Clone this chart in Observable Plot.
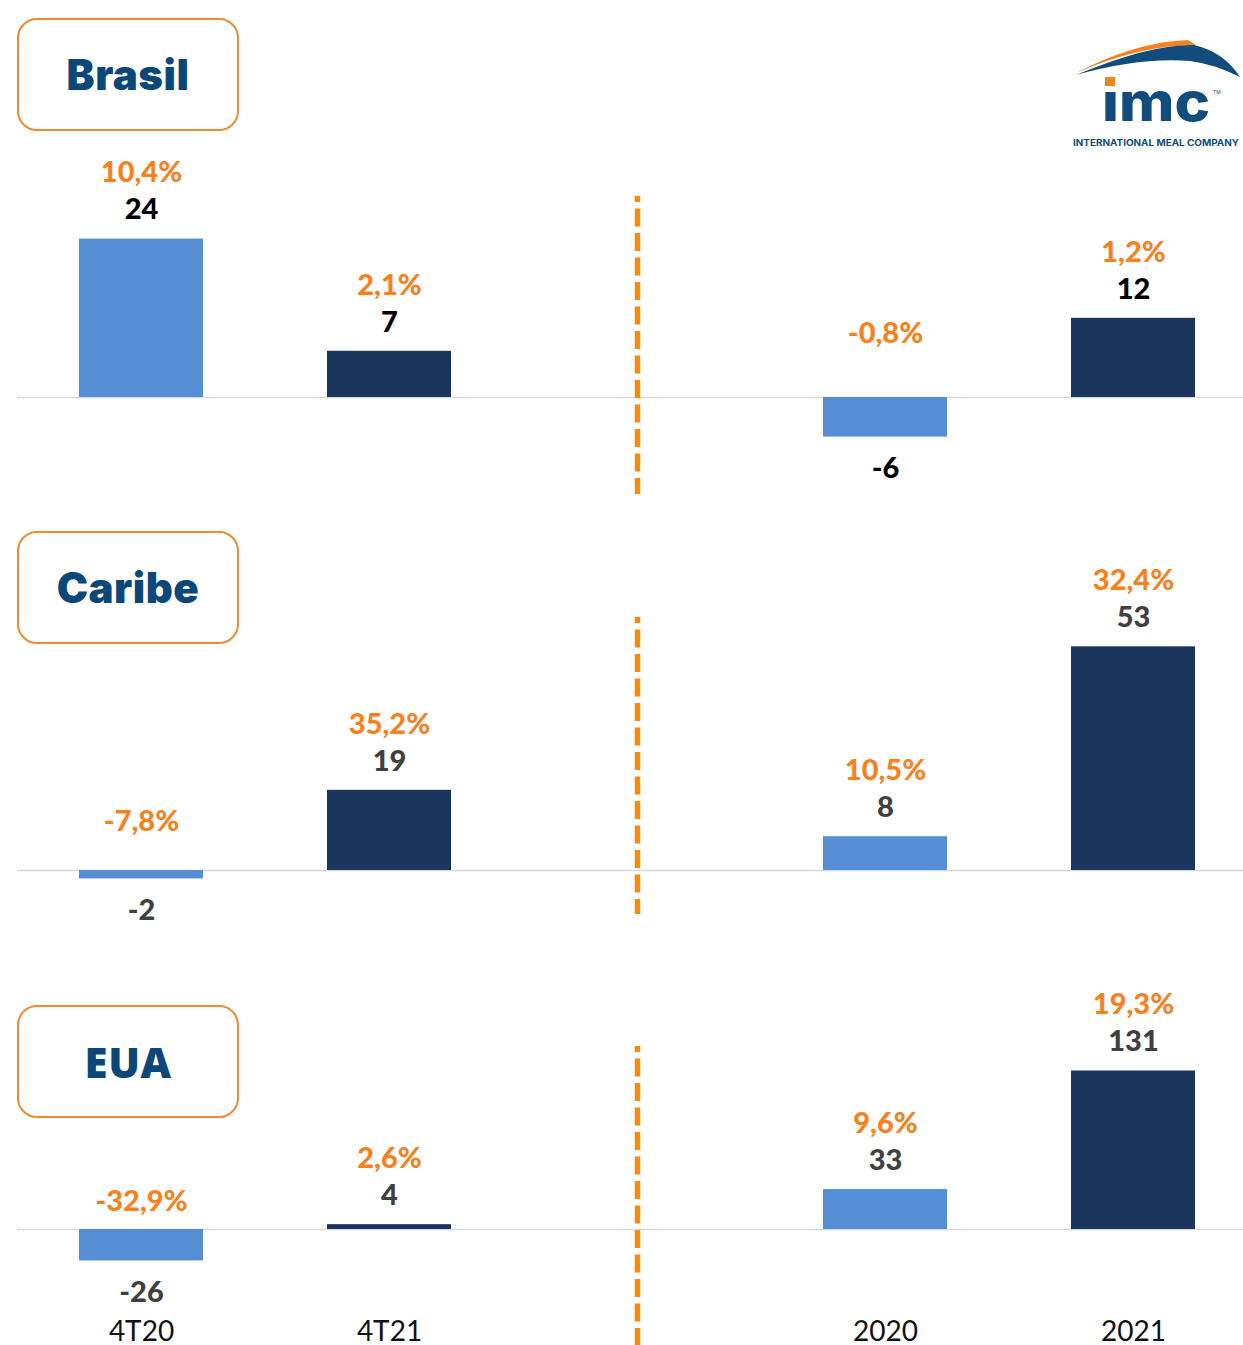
<!DOCTYPE html>
<html>
<head>
<meta charset="utf-8">
<script src="https://cdn.jsdelivr.net/npm/d3@7"></script>
<script src="https://cdn.jsdelivr.net/npm/@observablehq/plot@0.6"></script>
<style>
  html, body { margin: 0; padding: 0; background: #fff; }
  #root { position: relative; width: 1243px; height: 1345px; overflow: hidden; background: #fff; }
  .panel { position: absolute; left: 0; }
  .title-box {
    position: absolute; left: 17px; width: 218px; height: 109px;
    border: 2.5px solid #F28A2E; border-radius: 20px; background: #fff;
    display: flex; align-items: center; justify-content: center;
    color: #0B4778; font-size: 42px; font-weight: 900; font-family: Inter, sans-serif;
    letter-spacing: 0.5px;
  }
  #logo { position: absolute; left: 0; top: 0; }
</style>
</head>
<body>
<div id="root"></div>
<script>
// ---------------- data ----------------
const xDomain = ["4T20", "4T21", "sep", "2020", "2021"];
const periods = ["4T20", "4T21", "2020", "2021"];
const kinds = ["anterior", "atual", "anterior", "atual"];
const regionNames = ["Brasil", "Caribe", "EUA"];
const brasilValues = [24, 7, -6, 12];
const brasilMargins = ["10,4%", "2,1%", "-0,8%", "1,2%"];
const caribeValues = [-2, 19, 8, 53];
const caribeMargins = ["-7,8%", "35,2%", "10,5%", "32,4%"];
const euaValues = [-26, 4, 33, 131];
const euaMargins = ["-32,9%", "2,6%", "9,6%", "19,3%"];

// ---------------- layout ----------------
const W = 1243;
const LABEL_FONT = "Lato, 'Open Sans', sans-serif";
const root = document.getElementById("root");

function rows(values, margins) {
  return periods.map((p, i) => ({period: p, kind: kinds[i], value: values[i], margin: margins[i]}));
}

const panels = [
  {name: regionNames[0], values: brasilValues, margins: brasilMargins, top: 0, height: 510, mTop: 196, mBottom: 16, base: 397, k: 6.6, lo: -18, hi: 60, valueColor: "#000000", boxTop: 18, font: "Inter", negPct: -64, axis: false},
  {name: regionNames[1], values: caribeValues, margins: caribeMargins, top: 510, height: 430, mTop: 107, mBottom: 26, base: 360, k: 4.22, lo: -18, hi: 80, valueColor: "#404040", boxTop: 531, font: "Inter", negPct: -49, axis: false},
  {name: regionNames[2], values: euaValues, margins: euaMargins, top: 940, height: 405, mTop: 106, mBottom: 0, base: 289, k: 1.21, lo: -90, hi: 230, valueColor: "#404040", boxTop: 1005, font: "'Open Sans'", negPct: -28, axis: true}
];

for (const pn of panels) {
  const data = rows(pn.values, pn.margins);
  const pos = data.filter(d => d.value >= 0);
  const neg = data.filter(d => d.value < 0);
  const labelStyle = {fontSize: 29, fontWeight: 900, fontFamily: LABEL_FONT};
  const marks = [
    Plot.ruleY([0], {stroke: "#D9D9D9", strokeWidth: 1.5}),
    Plot.ruleX(["sep"], {stroke: "#FF8A00", strokeWidth: 5.5, strokeDasharray: "18,6.5", strokeDashoffset: 12}),
    Plot.barY(data, {x: "period", y: "value", fill: "kind"}),
    Plot.text(pos, {x: "period", y: "value", text: d => String(d.value), dy: -29, fill: pn.valueColor, ...labelStyle}),
    Plot.text(pos, {x: "period", y: "value", text: "margin", dy: -66, fill: "#F5821F", ...labelStyle}),
    Plot.text(neg, {x: "period", y: "value", text: d => String(d.value), dy: 32, fill: pn.valueColor, ...labelStyle}),
    Plot.text(neg, {x: "period", y: 0, text: "margin", dy: pn.negPct, fill: "#F5821F", ...labelStyle})
  ];
  if (pn.axis) {
    marks.push(Plot.text(periods, {x: d => d, frameAnchor: "bottom", dy: -5, fill: "#111", fontSize: 28, fontFamily: LABEL_FONT}));
  }
  const chart = Plot.plot({
    width: W,
    height: pn.height,
    marginTop: pn.mTop,
    marginBottom: pn.mBottom,
    marginLeft: 17,
    marginRight: 0,
    style: {background: "transparent", overflow: "visible"},
    x: {domain: xDomain, range: [17, 1257], paddingInner: 0.5, paddingOuter: 0.25, axis: null},
    y: {domain: [pn.lo, pn.hi], range: [pn.base - pn.lo * pn.k, pn.base - pn.hi * pn.k], axis: null},
    color: {domain: ["anterior", "atual"], range: ["#558ED5", "#1B365D"]},
    marks
  });
  chart.classList.add("panel");
  chart.style.top = pn.top + "px";
  chart.style.position = "absolute";
  root.appendChild(chart);

  const box = document.createElement("div");
  box.className = "title-box";
  box.style.top = pn.boxTop + "px";
  box.style.fontFamily = pn.font + ", sans-serif";
  if (pn.name === "EUA") { box.style.fontWeight = "800"; box.style.fontSize = "42px"; }
  box.textContent = pn.name;
  root.appendChild(box);
}

// ---------------- logo ----------------
const ns = "http://www.w3.org/2000/svg";
const logo = document.createElementNS(ns, "svg");
logo.setAttribute("id", "logo");
logo.setAttribute("width", W);
logo.setAttribute("height", 160);
logo.innerHTML = `
  <path d="M1076,73 Q1135,42 1188,40 L1196,45 Q1140,45 1076,73 Z" fill="#F58220"/>
  <path d="M1076,75 Q1150,44 1194,45 Q1224,52 1240,77 Q1214,64 1190,61 Q1140,57 1076,75 Z" fill="#124C7D"/>
  <rect x="1105" y="77" width="10" height="9" fill="#F58220"/>
  <text x="1102" y="121" font-family="Inter, sans-serif" font-weight="800" font-size="54" fill="#124C7D" textLength="108" lengthAdjust="spacingAndGlyphs">ımc</text>
  <text x="1213" y="94" font-family="Inter, sans-serif" font-size="5" fill="#124C7D">TM</text>
  <text x="1073" y="146" font-family="Inter, sans-serif" font-weight="700" font-size="8.5" fill="#124C7D" textLength="166" lengthAdjust="spacingAndGlyphs">INTERNATIONAL MEAL COMPANY</text>
`;
root.appendChild(logo);
</script>
</body>
</html>
